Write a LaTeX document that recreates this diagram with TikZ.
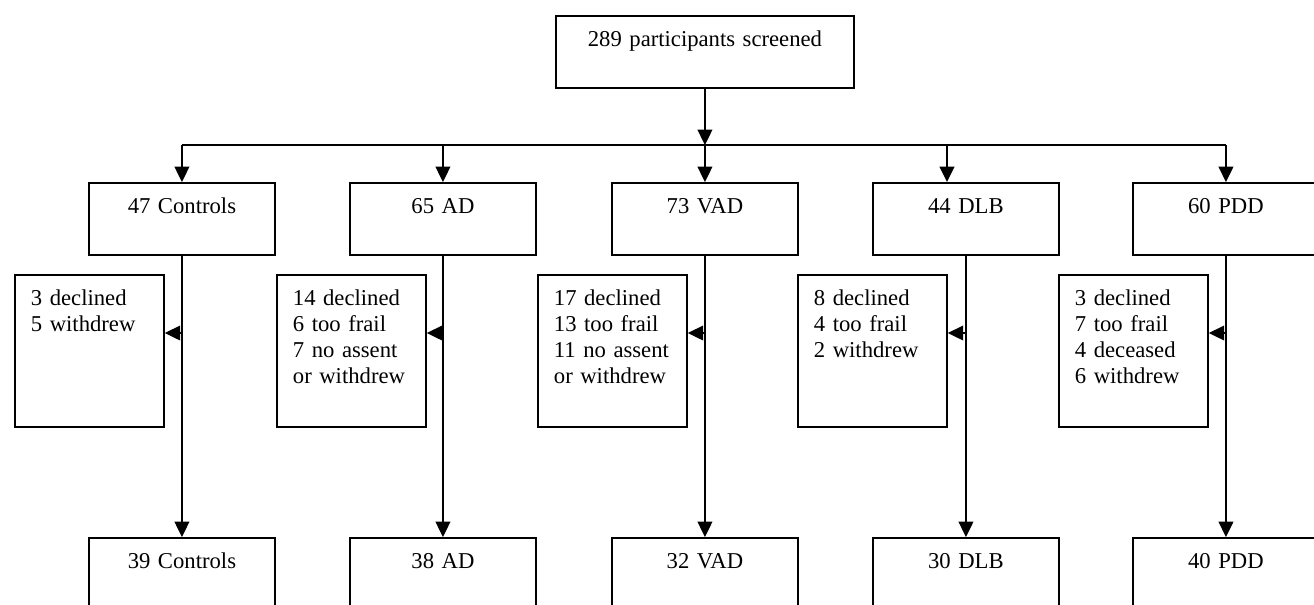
\documentclass[tikz,border=0pt]{standalone}
\usepackage{fontspec}
\setmainfont{Liberation Serif}
\usetikzlibrary{arrows.meta}

\begin{document}
\begin{tikzpicture}[x=0.75pt,y=0.75pt,yscale=-1,xscale=1,
  box/.style={draw, line width=1.4pt, inner xsep=12pt, inner ysep=0pt, text height=22.9pt, font=\fontsize{17}{19.5}\selectfont},
  midbox/.style={box, align=center, text width=115.5pt, text depth=31.1pt, anchor=north west},
  sidebox/.style={box, align=left, text width=87.75pt, text depth=91.1pt, anchor=north west},
  link/.style={line width=1.4pt},
  arr/.style={link, -{Triangle[length=11.5pt,width=11pt]}}]
\path[use as bounding box, clip] (0,0) rectangle (1314,604);

% Text Node
\node[box, align=center, text width=199.5pt, text depth=31.1pt, anchor=north west] (scr) at (555,15) {289 participants screened};

% Text Node
\node[midbox] (con) at (88,182) {47 Controls};
\node[midbox] (ad) at (349,182) {65 AD};
\node[midbox] (vad) at (611,182) {73 VAD};
\node[midbox] (dlb) at (872,182) {44 DLB};
\node[midbox] (pdd) at (1132,182) {60 PDD};

% Text Node
\node[sidebox] (conX) at (14,274) {3 declined\\5 withdrew};
\node[sidebox] (adX) at (276,274) {14 declined\\6 too frail\\7 no assent\\or withdrew};
\node[sidebox] (vadX) at (537,274) {17 declined\\13 too frail\\11 no assent\\or withdrew};
\node[sidebox] (dlbX) at (797,274) {8 declined\\4 too frail\\2 withdrew};
\node[sidebox] (pddX) at (1058,274) {3 declined\\7 too frail\\4 deceased\\6 withdrew};

% Text Node
\node[midbox] (conF) at (88,537) {39 Controls};
\node[midbox] (adF) at (349,537) {38 AD};
\node[midbox] (vadF) at (611,537) {32 VAD};
\node[midbox] (dlbF) at (872,537) {30 DLB};
\node[midbox] (pddF) at (1132,537) {40 PDD};

\coordinate (bus) at (704,145);
\coordinate (dlbIn) at (947,145);
\coordinate (drop) at (0,333);

%Straight Lines
\draw[arr] (scr) -- (scr |- bus);
\draw[link] (con.north |- bus) -- (pdd.north |- bus);
\draw[arr] (con.north |- bus) -- (con.north);
\draw[arr] (ad.north |- bus) -- (ad.north);
\draw[arr] (vad.north |- bus) -- (vad.north);
\draw[arr] (dlbIn) -- (dlbIn |- dlb.north);
\draw[arr] (pdd.north |- bus) -- (pdd.north);

%Straight Lines
\draw[arr] (con.south) -- (conF.north);
\draw[arr] (ad.south) -- (adF.north);
\draw[arr] (vad.south) -- (vadF.north);
\draw[arr] (dlb.south) -- (dlbF.north);
\draw[arr] (pdd.south) -- (pddF.north);

%Straight Lines
\draw[arr] (con.south |- drop) -- (conX.east |- drop);
\draw[arr] (ad.south |- drop) -- (adX.east |- drop);
\draw[arr] (vad.south |- drop) -- (vadX.east |- drop);
\draw[arr] (dlb.south |- drop) -- (dlbX.east |- drop);
\draw[arr] (pdd.south |- drop) -- (pddX.east |- drop);

\end{tikzpicture}
\end{document}
